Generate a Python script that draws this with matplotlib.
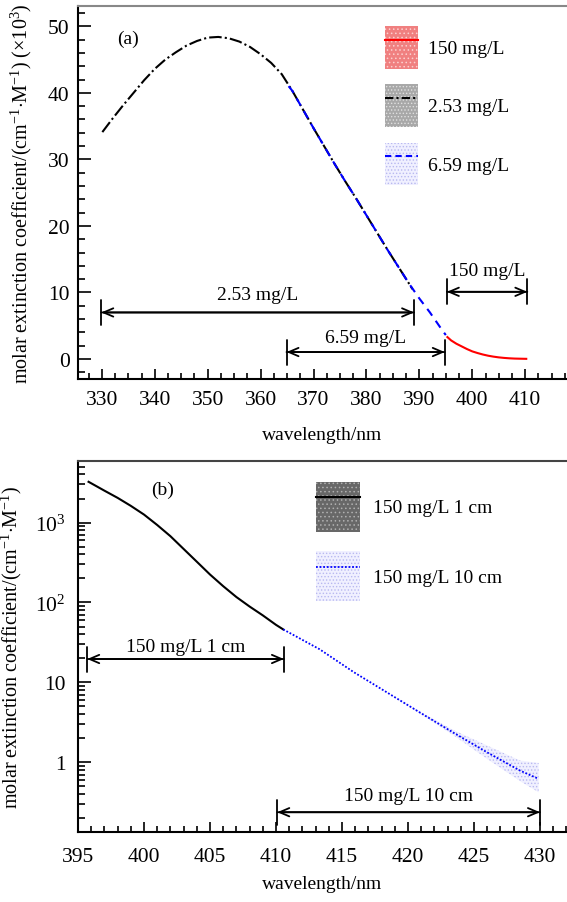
import numpy as np
import matplotlib
matplotlib.use("Agg")
from matplotlib import pyplot as plt
from matplotlib.patches import Patch
from matplotlib.lines import Line2D
from matplotlib.ticker import MultipleLocator, LogLocator, FuncFormatter, NullFormatter

plt.rcParams['font.family'] = ['Liberation Serif', 'DejaVu Serif']
plt.rcParams['mathtext.fontset'] = 'custom'
plt.rcParams['mathtext.rm'] = 'Liberation Serif'
plt.rcParams['mathtext.it'] = 'Liberation Serif:italic'
plt.rcParams['font.size'] = 14
plt.rcParams['hatch.linewidth'] = 0.6

# ---- panel (a) data, values in 10^3 cm^-1 M^-1 ----
wl_253 = [330.1, 332, 334, 336, 338, 340, 342, 344, 346, 348, 350, 352, 354,
          356, 358, 360, 362, 364, 366, 368, 370, 372, 374, 376, 378, 380,
          382, 384, 386, 388, 388.7]
eps_253 = [34.1, 36.1, 38.1, 40.0, 41.9, 43.6, 45.0, 46.1, 47.1, 47.8, 48.3, 48.4, 48.2,
           47.7, 46.9, 45.8, 44.5, 42.8, 40.3, 37.5, 34.7, 32.0, 29.3, 26.7, 24.2, 21.6,
           19.0, 16.4, 13.9, 11.4, 10.5]

wl_659 = [365.3, 366, 368, 370, 372, 374, 376, 378, 380, 382, 384, 386, 388,
          390, 392, 394, 395.0]
eps_659 = [41.0, 40.3, 37.5, 34.7, 32.0, 29.3, 26.7, 24.2, 21.6, 19.0, 16.4, 13.9, 11.4,
           9.1, 7.0, 4.7, 3.6]

wl_150 = [395.3, 396, 397, 398, 399, 400, 401, 402, 403, 404, 405, 406, 407,
          408, 409, 410.2]
eps_150 = [3.3, 2.8, 2.3, 1.9, 1.5, 1.15, 0.9, 0.68, 0.5, 0.36, 0.25, 0.17, 0.11,
           0.07, 0.05, 0.03]

# ---- panel (b) data, cm^-1 M^-1 ----
wl_1cm = [395.8, 397, 398, 399, 400, 401, 402, 403, 404, 405, 406, 407, 408,
          409, 410, 410.55]
eps_1cm = [3240, 2510, 2040, 1620, 1260, 933, 676, 468, 324, 224, 160, 117, 89,
           69, 52.5, 46]

wl_10cm = [410.55, 413.3, 415.9, 418.4, 420.9, 423.4, 426.0, 428.5, 429.9]
eps_10cm = [46, 26, 13.4, 7.5, 4.2, 2.37, 1.33, 0.785, 0.62]
lo_10cm = [46, 26, 13.4, 7.5, 4.1, 2.2, 1.10, 0.58, 0.42]
hi_10cm = [46, 26, 13.4, 7.5, 4.3, 2.55, 1.62, 1.05, 0.98]

fig = plt.figure(figsize=(5.67, 9.03), dpi=100)
W, H = 567.0, 903.0
ax1 = fig.add_axes([78 / W, 1 - 380 / H, (W - 78) / W, 373 / H])
ax2 = fig.add_axes([78 / W, 1 - 833 / H, (W - 78) / W, 371 / H])


def style_axes(ax, topcolor, ypad, xpad):
    ax.spines['right'].set_visible(False)
    ax.spines['top'].set_color(topcolor)
    ax.spines['top'].set_linewidth(1.5)
    for s in ('left', 'bottom'):
        ax.spines[s].set_linewidth(1.5)
    ax.tick_params(which='both', direction='in', top=False, right=False,
                   labelsize=15.5, width=1.2)
    ax.tick_params(axis='y', which='major', length=9, pad=ypad)
    ax.tick_params(axis='y', which='minor', length=5)
    ax.tick_params(axis='x', which='major', length=7, pad=xpad)
    ax.tick_params(axis='x', which='minor', length=4)


def span(ax, x0, x1, y, label, ytext):
    ax.annotate('', xy=(x1, y), xytext=(x0, y),
                arrowprops=dict(arrowstyle='<->,head_length=0.35,head_width=0.15',
                                color='black', lw=1.3, shrinkA=0, shrinkB=0,
                                mutation_scale=20))
    ax.annotate('', xy=(x1, y), xytext=(x0, y),
                arrowprops=dict(arrowstyle='|-|,widthA=0.45,widthB=0.45',
                                color='black', lw=1.3, shrinkA=0, shrinkB=0,
                                mutation_scale=20))
    ax.text((x0 + x1) / 2, ytext, label, ha='center', va='center', fontsize=14)


# ---------------- (a) ----------------
ax1.plot(wl_150, eps_150, color='red', lw=1.5, zorder=3)
ax1.plot(wl_253, eps_253, color='black', lw=1.5, ls=(0, (6, 1.5, 1, 1.5)), zorder=3)
ax1.plot(wl_659, eps_659, color='blue', lw=1.5, ls=(0, (4, 3)), zorder=4)

ax1.set_xlim(325.5, 417.9)
ax1.set_ylim(-3.0, 53.05)
ax1.xaxis.set_major_locator(MultipleLocator(10))
ax1.xaxis.set_minor_locator(MultipleLocator(2.5))
ax1.yaxis.set_major_locator(MultipleLocator(10))
ax1.yaxis.set_minor_locator(MultipleLocator(2))
style_axes(ax1, '#888888', 6, 8)
ax1.set_xticks(np.arange(330, 411, 10))
ax1.set_xlabel('wavelength/nm', fontsize=14, labelpad=12)
ax1.set_ylabel(r'molar extinction coefficient/(cm$^{-1}$$\cdot$M$^{-1}$) (×10$^{3}$)',
               fontsize=14.5, labelpad=10)
ax1.text(334.9, 48.2, '(a)', ha='center', va='center', fontsize=14)

span(ax1, 329.9, 389.0, 7.0, '2.53 mg/L', 9.7)
span(ax1, 364.9, 394.8, 1.05, '6.59 mg/L', 3.2)
span(ax1, 395.2, 410.4, 10.1, '150 mg/L', 13.3)

h_150 = (Patch(facecolor='#f08080', edgecolor='#fbd0d0', hatch='....', lw=0),
         Line2D([], [], color='red', lw=1.5))
h_253 = (Patch(facecolor='#a8a8a8', edgecolor='#e0e0e0', hatch='.....', lw=0),
         Line2D([], [], color='black', lw=1.5, ls=(0, (4, 1.5, 1, 1.5))))
h_659 = (Patch(facecolor='#f0f0ff', edgecolor='#b8b8f0', hatch='.....', lw=0),
         Line2D([], [], color='blue', lw=1.5, ls=(0, (3, 2))))
ax1.legend([h_150, h_253, h_659], ['150 mg/L', '2.53 mg/L', '6.59 mg/L'],
           loc='upper left', bbox_to_anchor=(0.628, 0.946), borderpad=0,
           borderaxespad=0, frameon=False, handlelength=1.7, handleheight=3.0,
           labelspacing=0.8, handletextpad=0.5, fontsize=14)

# ---------------- (b) ----------------
ax2.set_yscale('log')
ax2.fill_between(wl_10cm, lo_10cm, hi_10cm, facecolor='#f0f0ff',
                 edgecolor='#b8b8f0', hatch='.....', lw=0, zorder=2)
ax2.plot(wl_1cm, eps_1cm, color='black', lw=1.5, zorder=3)
ax2.plot(wl_10cm, eps_10cm, color='blue', lw=1.3, ls=(0, (1, 1)), zorder=3)

ax2.set_xlim(395, 432.05)
ax2.set_ylim(0.134, 5900)
ax2.xaxis.set_major_locator(MultipleLocator(5))
ax2.xaxis.set_minor_locator(MultipleLocator(1))
ax2.yaxis.set_major_locator(LogLocator(base=10, numticks=10))
ax2.yaxis.set_minor_locator(LogLocator(base=10, subs=np.arange(2, 10), numticks=20))
ax2.yaxis.set_minor_formatter(NullFormatter())
ylab = {1000: r'$10^3$', 100: r'$10^2$', 10: '10', 1: '1'}
ax2.yaxis.set_major_formatter(FuncFormatter(lambda v, p: ylab.get(int(round(v)), '') if v >= 1 else ''))
style_axes(ax2, '#444444', 9, 11)
ax2.set_xticks(np.arange(395, 431, 5))
ax2.set_xlabel('wavelength/nm', fontsize=14, labelpad=6)
ax2.set_ylabel(r'molar extinction coefficient/(cm$^{-1}$$\cdot$M$^{-1}$)',
               fontsize=14.5, labelpad=8)
ax2.text(401.4, 2630, '(b)', ha='center', va='center', fontsize=14)

span(ax2, 395.7, 410.6, 19.6, '150 mg/L 1 cm', 28)
span(ax2, 410.1, 430.0, 0.237, '150 mg/L 10 cm', 0.38)

h_1cm = (Patch(facecolor='#686868', edgecolor='#b0b0b0', hatch='....', lw=0),
         Line2D([], [], color='black', lw=1.5))
h_10cm = (Patch(facecolor='#f0f0ff', edgecolor='#b8b8f0', hatch='.....', lw=0),
          Line2D([], [], color='blue', lw=1.3, ls=(0, (1, 1))))
ax2.legend([h_1cm, h_10cm], ['150 mg/L 1 cm', '150 mg/L 10 cm'],
           loc='upper left', bbox_to_anchor=(0.487, 0.943), borderpad=0,
           borderaxespad=0, frameon=False, handlelength=2.26, handleheight=3.57,
           labelspacing=1.0, handletextpad=0.65, fontsize=14)

fig.savefig('out.png', dpi=100)
